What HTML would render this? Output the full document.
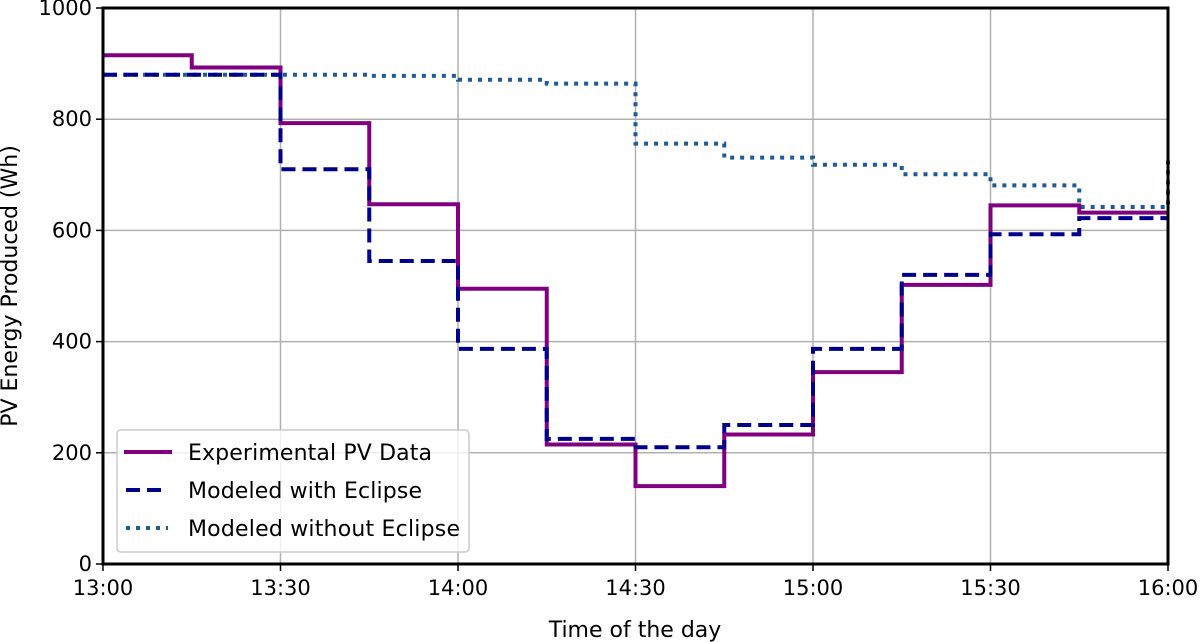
<!DOCTYPE html>
<html><head><meta charset="utf-8"><style>
body{margin:0;background:#fff;}
svg{display:block;font-family:"DejaVu Sans","Liberation Sans",sans-serif;}
</style></head><body>
<svg id="chart" width="1200" height="642" viewBox="0 0 1200 642" xmlns="http://www.w3.org/2000/svg">
<g id="grid"></g>
<g id="series"></g>
<rect x="103" y="8" width="1065" height="556" fill="none" stroke="#000" stroke-width="3"/>
<g id="ticks"></g>
<text x="635" y="637" text-anchor="middle" font-size="22">Time of the day</text>
<text transform="translate(17,286) rotate(-90)" text-anchor="middle" font-size="22">PV Energy Produced (Wh)</text>
<g>
<rect x="117" y="430" width="352" height="122" rx="4" fill="#fff" fill-opacity="0.8" stroke="#ccc" stroke-width="1.5"/>
<line x1="124" y1="452" x2="172" y2="452" stroke="#800080" stroke-width="4"/>
<text x="188" y="460" font-size="22" textLength="244">Experimental PV Data</text>
<line x1="126" y1="490" x2="168" y2="490" stroke="#00008b" stroke-width="4" stroke-dasharray="14,7"/>
<text x="188" y="498" font-size="22" textLength="234">Modeled with Eclipse</text>
<line x1="126" y1="528" x2="168" y2="528" stroke="#1f5b99" stroke-width="4" stroke-dasharray="4,6"/>
<text x="188" y="536" font-size="22" textLength="272">Modeled without Eclipse</text>
</g>
</svg>
<script>
const xTickLabels = ["13:00","13:30","14:00","14:30","15:00","15:30","16:00"];
const yTickValues = [0,200,400,600,800,1000];
const stepStartMinutes = [0,15,30,45,60,75,90,105,120,135,150,165];
const experimental = [915,893,793,647,495,215,140,233,345,502,645,632];
const withEclipse = [880,880,710,545,387,225,210,250,387,520,593,622];
const withoutEclipse = [880,880,880,878,871,864,756,731,718,701,681,642];
const withoutEclipseEnd = 730;

const NS="http://www.w3.org/2000/svg";
const X0=103,X1=1168,Y0=564,Y1=8;
const xs=m=>X0+(m/180)*(X1-X0);
const ys=v=>Y0-(v/1000)*(Y0-Y1);
const grid=document.getElementById('grid'),ticks=document.getElementById('ticks'),series=document.getElementById('series');
function mk(tag,attrs,parent){const e=document.createElementNS(NS,tag);for(const k in attrs)e.setAttribute(k,attrs[k]);parent.appendChild(e);return e;}
xTickLabels.forEach((lab,i)=>{
  const x=xs(i*30);
  const g=mk('line',{x1:x,x2:x,y1:Y1,y2:Y0,stroke:'#b0b0b0','stroke-width':1.5},grid);
  
  
  const t=mk('line',{x1:x,x2:x,y1:Y0,y2:Y0+7,stroke:'#000','stroke-width':1.5},ticks);
  
  
  const tx=mk('text',{x:x,y:Y0+31,'text-anchor':'middle','font-size':21},ticks);
  tx.textContent=lab;
  
  
});
yTickValues.forEach(v=>{
  const y=ys(v);
  const g=mk('line',{x1:X0,x2:X1,y1:y,y2:y,stroke:'#b0b0b0','stroke-width':1.5},grid);
  
  
  const t=mk('line',{x1:X0-7,x2:X0,y1:y,y2:y,stroke:'#000','stroke-width':1.5},ticks);
  
  
  const tx=mk('text',{x:X0-11,y:y+7,'text-anchor':'end','font-size':21},ticks);
  tx.textContent=v;
  
  
});
function stepPath(vals,endVal){
  let d='';
  vals.forEach((v,i)=>{
    const xa=xs(stepStartMinutes[i]),xb=xs(i+1<stepStartMinutes.length?stepStartMinutes[i+1]:180);
    d+=(i===0?'M':'L')+xa+','+ys(v)+'L'+xb+','+ys(v);
  });
  if(endVal!==undefined)d+='L'+xs(180)+','+ys(endVal);
  return d;
}
const p3=mk('path',{d:stepPath(withoutEclipse,withoutEclipseEnd),fill:'none',stroke:'#1f5b99','stroke-width':4,'stroke-dasharray':'4,6'},series);


const p1=mk('path',{d:stepPath(experimental),fill:'none',stroke:'#800080','stroke-width':4},series);


const p2=mk('path',{d:stepPath(withEclipse),fill:'none',stroke:'#00008b','stroke-width':4,'stroke-dasharray':'14,7'},series);


</script>
</body></html>
